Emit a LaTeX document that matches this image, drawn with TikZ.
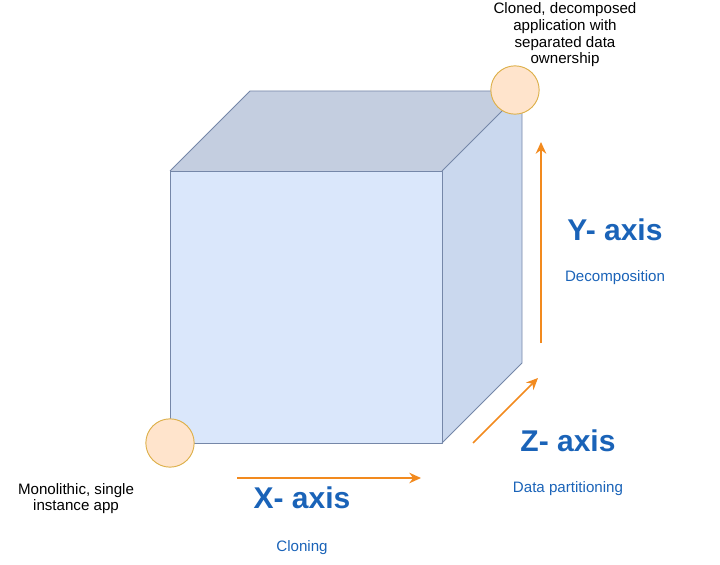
\documentclass[tikz,border=0pt]{standalone}
\usepackage{fontspec}
\setmainfont{Liberation Sans}
\usetikzlibrary{positioning, arrows.meta}
\definecolor{faceblue}{HTML}{DAE7FB}
\definecolor{topblue}{HTML}{C4CEE0}
\definecolor{sideblue}{HTML}{CAD8EE}
\definecolor{edgeblue}{HTML}{7587A8}
\definecolor{peach}{HTML}{FFE4CC}
\definecolor{gold}{HTML}{DDB04A}
\definecolor{axisorange}{HTML}{F28A1E}
\definecolor{axisblue}{HTML}{1A63B8}
\tikzset{
    face/.style={
        draw=edgeblue,
        line width=0.8pt,
        line join=round,
    },
    corner/.style={
        draw=gold,
        fill=peach,
        circle,
        line width=0.8pt,
        minimum size=1.45cm,
        inner sep=0pt,
    },
    note/.style={
        align=center,
        inner sep=0pt,
        font=\fontsize{12.9}{14.2}\selectfont,
    },
    axislabel/.style={
        inner sep=0pt,
        text=axisblue,
        font=\fontsize{25.6}{28}\selectfont\bfseries,
    },
    axisnote/.style={
        inner sep=0pt,
        text=axisblue,
        font=\fontsize{12.9}{14.2}\selectfont,
    },
    axis/.style={
        draw=axisorange,
        line width=1.3pt,
        -{Stealth[length=10pt,width=9pt]},
    }
}

\begin{document}
\begin{tikzpicture}[x=0.03cm, y=-0.03cm, node distance=0.5cm]
        \useasboundingbox (0,0) rectangle (720,565);
        % cube corners
        \coordinate (ftl) at (170,171);
        \coordinate (ftr) at (442,171);
        \coordinate (fbl) at (170,443);
        \coordinate (fbr) at (442,443);
        \coordinate (btl) at (250,91);
        \coordinate (btr) at (522,91);
        \coordinate (bbr) at (522,363);
        \fill[topblue] (ftl) -- (btl) -- (btr) -- (ftr) -- cycle;
        \fill[sideblue] (ftr) -- (btr) -- (bbr) -- (fbr) -- cycle;
        \draw[face, fill=faceblue] (ftl) rectangle (fbr);
        \draw[face] (ftl) -- (btl) -- (btr) -- (bbr) -- (fbr);
        \draw[face] (ftr) -- (btr);
        % corners
        \node[corner] (mono) at (fbl) {};
        \node[corner] (cloned) at (515,90) {};
        \node[note] (monotext) at (76,498.5) {Monolithic, single\\instance app};
        \node[note] (clonedtext) at (565,35) {Cloned, decomposed\\application with\\separated data\\ownership};
        % axes
        \coordinate (xa) at (237,478);
        \coordinate (xb) at (421,478);
        \coordinate (ya) at (541,343);
        \coordinate (yb) at (541,142);
        \coordinate (za) at (473,443);
        \coordinate (zb) at (538,378);
        \draw[axis] (xa) to (xb);
        \draw[axis] (ya) to (yb);
        \draw[axis] (za) to (zb);
        \node[axislabel] (x) at (302,498) {X- axis};
        \node[axisnote, below=1.5cm of x.center, anchor=center] (xn) {Cloning};
        \node[axislabel] (y) at (615,230) {Y- axis};
        \node[axisnote, below=1.44cm of y.center, anchor=center] (yn) {Decomposition};
        \node[axislabel] (z) at (568,441) {Z- axis};
        \node[axisnote, below=1.42cm of z.center, anchor=center] (zn) {Data partitioning};
        \end{tikzpicture}
\end{document}
